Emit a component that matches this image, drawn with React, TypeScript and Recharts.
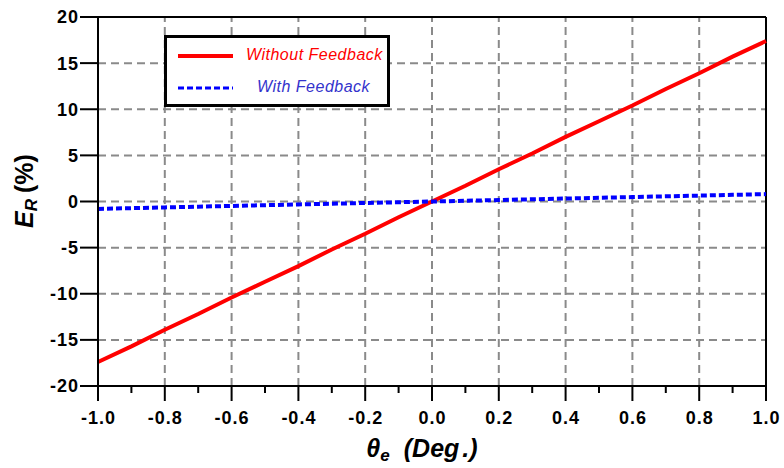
import { LineChart, Line, XAxis, YAxis, ReferenceLine, Legend } from "recharts";

const theta = [-1.0, -0.9, -0.8, -0.7, -0.6, -0.5, -0.4, -0.3, -0.2, -0.1, 0.0, 0.1, 0.2, 0.3, 0.4, 0.5, 0.6, 0.7, 0.8, 0.9, 1.0];
const withoutFeedback = [-17.4, -15.7, -13.9, -12.2, -10.4, -8.7, -7.0, -5.2, -3.5, -1.7, 0.0, 1.7, 3.5, 5.2, 7.0, 8.7, 10.4, 12.2, 13.9, 15.7, 17.4];
const withFeedback = [-0.8, -0.72, -0.64, -0.56, -0.48, -0.4, -0.32, -0.24, -0.16, -0.08, 0.0, 0.08, 0.16, 0.24, 0.32, 0.4, 0.48, 0.56, 0.64, 0.72, 0.8];

const xTicks = theta;
const xGrid = [-0.8, -0.6, -0.4, -0.2, 0.0, 0.2, 0.4, 0.6, 0.8];
const yTicks = [-20, -15, -10, -5, 0, 5, 10, 15, 20];
const yGrid = [-15, -10, -5, 0, 5, 10, 15];

const data = theta.map((t, i) => ({ theta: t, without: withoutFeedback[i], with: withFeedback[i] }));

const FONT = '"Liberation Sans", Arial, sans-serif';

const XTick = (props: any) => {
    const { x, y, payload } = props;
    const v = payload.value;
    const major = Math.abs(Math.round(v * 10)) % 2 === 0;
    return (
        <g>
            <line x1={x} x2={x} y1={y} y2={y + (major ? 15 : 7)} stroke="#000" strokeWidth={2} />
            {major && (
                <text x={x + 0.5} y={y + 38} textAnchor="middle" fontFamily={FONT} fontWeight="bold" fontSize={18} letterSpacing={1} fill="#000">
                    {v.toFixed(1)}
                </text>
            )}
        </g>
    );
};

const LegendBox = () => (
    <div style={{ position: "relative", width: 226, height: 72, boxSizing: "border-box", border: "3px solid #000", background: "#fff", fontFamily: FONT, fontStyle: "italic", fontSize: 16, letterSpacing: 0.5 }}>
        <svg width={60} height={60} style={{ position: "absolute", left: 11, top: 0 }}>
            <line x1={0} x2={55} y1={18} y2={18} stroke="#ff0000" strokeWidth={4} />
            <line x1={0} x2={55} y1={50} y2={50} stroke="#0000ff" strokeWidth={3} strokeDasharray="6 3" />
        </svg>
        <span style={{ position: "absolute", left: 79, top: 8, color: "#ff0000", whiteSpace: "nowrap" }}>Without Feedback</span>
        <span style={{ position: "absolute", left: 90, top: 40, color: "#3333cc", whiteSpace: "nowrap" }}>With Feedback</span>
    </div>
);

export default function App() {
    return (
        <div style={{ position: "absolute", left: 0, top: 0, width: 784, height: 468, background: "#fff" }}>
            <LineChart width={784} height={468} data={data} margin={{ top: 17, right: 18, left: 18, bottom: 22 }}>
                {xGrid.map((v) => (
                    <ReferenceLine key={"gx" + v} x={v} stroke="#8a8a8a" strokeWidth={2} strokeDasharray="8 5" />
                ))}
                {yGrid.map((v) => (
                    <ReferenceLine key={"gy" + v} y={v} stroke="#8a8a8a" strokeWidth={2} strokeDasharray="8 5" />
                ))}
                <ReferenceLine y={20} stroke="#000" strokeWidth={2} />
                <ReferenceLine x={1} stroke="#000" strokeWidth={2} />
                <XAxis
                    dataKey="theta"
                    type="number"
                    domain={[-1, 1]}
                    ticks={xTicks}
                    interval={0}
                    tickSize={0}
                    tickMargin={0}
                    tickLine={false}
                    tick={<XTick />}
                    axisLine={{ stroke: "#000", strokeWidth: 2 }}
                    height={60}
                    label={(p: any) => {
                        const vb = p.viewBox;
                        const cx = vb.x + vb.width / 2 - 10;
                        return (
                            <text x={cx} y={vb.y + 71} textAnchor="middle" fontFamily={FONT} fontWeight="bold" fontStyle="italic" fontSize={25} fill="#000">
                                θ<tspan fontSize={17} dy={4}>e</tspan>
                                <tspan dy={-4} dx={14}>(Deg</tspan>
                                <tspan dx={3}>.)</tspan>
                            </text>
                        );
                    }}
                />
                <YAxis
                    type="number"
                    domain={[-20, 20]}
                    ticks={yTicks}
                    interval={0}
                    width={80}
                    tickSize={18}
                    tickMargin={1}
                    tickLine={{ stroke: "#000", strokeWidth: 2 }}
                    axisLine={{ stroke: "#000", strokeWidth: 2 }}
                    tick={{ fill: "#000", fontFamily: FONT, fontWeight: "bold", fontSize: 18, letterSpacing: 1 }}
                    label={() => (
                        <text x={33} y={191} transform="rotate(-90 33 191)" textAnchor="middle" fontFamily={FONT} fontWeight="bold" fontSize={25} fill="#000">
                            <tspan fontStyle="italic">E</tspan>
                            <tspan fontStyle="italic" fontSize={17} dy={4}>R</tspan>
                            <tspan dy={-4} dx={6}>(%)</tspan>
                        </text>
                    )}
                />
                <Legend
                    layout="horizontal"
                    verticalAlign="middle"
                    align="center"
                    content={() => <LegendBox />}
                    wrapperStyle={{ left: 164, top: 35, width: 226, height: 72 }}
                />
                <Line dataKey="without" name="Without Feedback" stroke="#ff0000" strokeWidth={4} dot={false} isAnimationActive={false} />
                <Line dataKey="with" name="With Feedback" stroke="#0000ff" strokeWidth={4} strokeDasharray="6 3" dot={false} isAnimationActive={false} />
            </LineChart>
        </div>
    );
}
